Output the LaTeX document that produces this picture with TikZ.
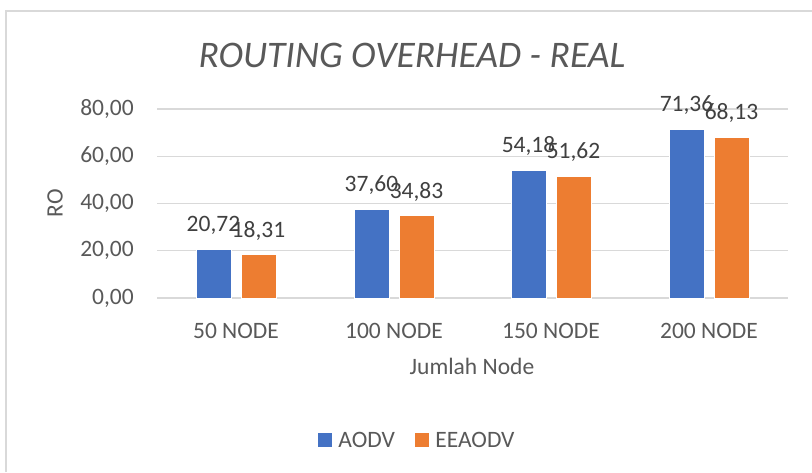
\documentclass[tikz,border=0pt]{standalone}
\usepackage{fontspec}
\setmainfont{Carlito}
\usepackage{xcolor}
\usetikzlibrary{positioning}

\definecolor{aodvblue}{HTML}{4472C4}
\definecolor{eeaodvorange}{HTML}{ED7D31}
\definecolor{gridgray}{HTML}{D9D9D9}
\definecolor{textgray}{HTML}{595959}
\definecolor{valgray}{HTML}{404040}

\begin{document}
\begin{tikzpicture}[
        x=1pt, y=-1pt,
        ticklabel/.style={anchor=east, text=textgray, font=\fontsize{23.5}{28}\selectfont, inner sep=0pt},
        catlabel/.style={text=textgray, font=\fontsize{23.5}{28}\selectfont, inner sep=0pt},
        vallabel/.style={text=valgray, font=\fontsize{23.5}{28}\selectfont, inner sep=0pt},
        gridline/.style={draw=gridgray, line width=1.2pt},
        aodvbar/.style={fill=aodvblue, draw=white, line width=0.6pt},
        eeaodvbar/.style={fill=eeaodvorange, draw=white, line width=0.6pt},
        legendkey/.style={minimum size=14pt, inner sep=0pt}
    ]

        \useasboundingbox (0,0) rectangle (812,472);
        \fill[white] (0,0) rectangle (812,472);

        % chart frame
        \draw[gridgray, line width=1.5pt] (6,472) -- (6,11) -- (812,11);

        \node[text=textgray, font=\fontsize{37.5}{44}\selectfont\itshape] (title) at (412,55) {ROUTING OVERHEAD - REAL};

        % grid and y ticks
        \foreach \v/\lab in {0/{0,00}, 20/{20,00}, 40/{40,00}, 60/{60,00}, 80/{80,00}} {
            \draw[gridline] (157,298-\v*2.3625) -- (788,298-\v*2.3625);
            \node[ticklabel] at (134,298-\v*2.3625) {\lab};
        }

        \node[text=textgray, font=\fontsize{23.5}{28}\selectfont, rotate=90] (ytitle) at (55,203) {RO};

        % bars and values
        \foreach \cx/\a/\alab/\b/\blab/\cat [count=\i] in {
                236/20.72/{20,72}/18.31/{18,31}/50 NODE,
                394/37.60/{37,60}/34.83/{34,83}/100 NODE,
                551/54.18/{54,18}/51.62/{51,62}/150 NODE,
                709/71.36/{71,36}/68.13/{68,13}/200 NODE} {
            \fill[aodvbar] (\cx-40,298) rectangle (\cx-5,298-\a*2.3625);
            \fill[eeaodvbar] (\cx+5,298) rectangle (\cx+40,298-\b*2.3625);
            \node[vallabel] (a\i) at (\cx-22.5,274-\a*2.3625) {\alab};
            \node[vallabel] (b\i) at (\cx+22.5,274-\b*2.3625) {\blab};
            \node[catlabel] (cat\i) at (\cx,331) {\cat};
        }

        \node[catlabel] (xtitle) at (472,366) {Jumlah Node};

        % legend
        \node[legendkey, fill=aodvblue] (keyaodv) at (325,440) {};
        \node[catlabel, anchor=west, right=6pt of keyaodv] (legaodv) {AODV};
        \node[legendkey, fill=eeaodvorange] (keyeeaodv) at (422,440) {};
        \node[catlabel, anchor=west, right=6pt of keyeeaodv] (legeeaodv) {EEAODV};

    \end{tikzpicture}
\end{document}
